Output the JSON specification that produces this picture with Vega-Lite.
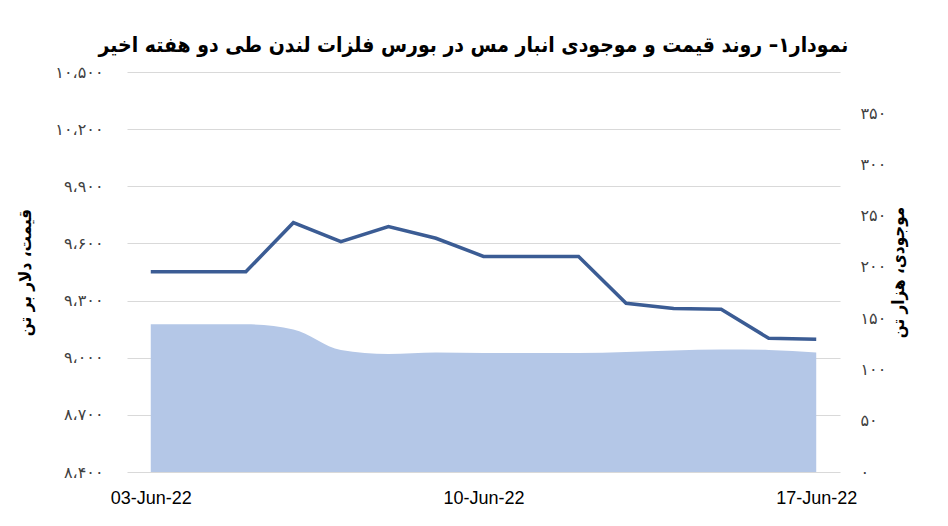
{
  "$schema": "https://vega.github.io/schema/vega-lite/v6.json",
  "autosize": {"type": "none"},
  "width": 713,
  "height": 400,
  "padding": {"left": 127, "top": 72, "right": 108, "bottom": 54},
  "background": "white",
  "title": {
    "text": "نمودار۱– روند قیمت و موجودی انبار مس در بورس فلزات لندن طی دو هفته اخیر",
    "anchor": "middle",
    "dx": -10,
    "offset": 8,
    "font": "DejaVu Sans Condensed, DejaVu Sans",
    "fontSize": 21,
    "fontWeight": "bold",
    "color": "#000000"
  },
  "data": {
    "values": [
      {"date": "2022-06-03", "price": 9451, "stock": 144},
      {"date": "2022-06-04", "price": 9451, "stock": 144},
      {"date": "2022-06-05", "price": 9451, "stock": 144},
      {"date": "2022-06-06", "price": 9709, "stock": 139},
      {"date": "2022-06-07", "price": 9609, "stock": 119},
      {"date": "2022-06-08", "price": 9688, "stock": 115},
      {"date": "2022-06-09", "price": 9627, "stock": 116.5},
      {"date": "2022-06-10", "price": 9532, "stock": 116},
      {"date": "2022-06-11", "price": 9532, "stock": 116},
      {"date": "2022-06-12", "price": 9532, "stock": 116},
      {"date": "2022-06-13", "price": 9286, "stock": 117},
      {"date": "2022-06-14", "price": 9258, "stock": 118.5},
      {"date": "2022-06-15", "price": 9254, "stock": 119.5},
      {"date": "2022-06-16", "price": 9102, "stock": 119},
      {"date": "2022-06-17", "price": 9097, "stock": 116.5}
    ]
  },
  "encoding": {
    "x": {
      "field": "date",
      "type": "temporal",
      "scale": {
        "type": "utc",
        "domain": [
          {"year": 2022, "month": 6, "date": 2, "hours": 12, "utc": true},
          {"year": 2022, "month": 6, "date": 17, "hours": 12, "utc": true}
        ]
      },
      "axis": {
        "title": null,
        "format": "%d-%b-%y",
        "values": [
          {"year": 2022, "month": 6, "date": 3, "utc": true},
          {"year": 2022, "month": 6, "date": 10, "utc": true},
          {"year": 2022, "month": 6, "date": 17, "utc": true}
        ],
        "grid": false,
        "domain": false,
        "ticks": false,
        "labelPadding": 17,
        "labelFont": "Liberation Sans",
        "labelFontSize": 18,
        "labelColor": "#000000"
      }
    }
  },
  "layer": [
    {
      "mark": {"type": "area", "color": "#b4c7e7", "interpolate": "monotone"},
      "encoding": {
        "y": {
          "field": "stock",
          "type": "quantitative",
          "scale": {"domain": [0, 390], "nice": false},
          "axis": {
            "orient": "right",
            "title": "موجودی، هزار تن",
            "titleAngle": -90,
            "titleFont": "DejaVu Sans Condensed, DejaVu Sans",
            "titleFontSize": 17,
            "titleFontWeight": "bold",
            "titleColor": "#000000",
            "titlePadding": 22,
            "values": [0, 50, 100, 150, 200, 250, 300, 350],
            "format": "d",
            "grid": false,
            "domain": false,
            "ticks": false,
            "labelPadding": 20,
            "labelFont": "DejaVu Sans",
            "labelFontSize": 16,
            "labelColor": "#404040"
          }
        }
      }
    },
    {
      "mark": {"type": "line", "color": "#3b5c94", "strokeWidth": 3.5},
      "encoding": {
        "y": {
          "field": "price",
          "type": "quantitative",
          "scale": {"domain": [8400, 10500], "nice": false, "zero": false},
          "axis": {
            "orient": "left",
            "title": "قیمت، دلار بر تن",
            "titleAngle": -90,
            "titleFont": "DejaVu Sans Condensed, DejaVu Sans",
            "titleFontSize": 17,
            "titleFontWeight": "bold",
            "titleColor": "#000000",
            "titlePadding": 20,
            "values": [8400, 8700, 9000, 9300, 9600, 9900, 10200, 10500],
            "format": ",d",
            "grid": true,
            "gridColor": "#d9d9d9",
            "domain": false,
            "ticks": false,
            "labelPadding": 24,
            "labelFont": "DejaVu Sans",
            "labelFontSize": 16,
            "labelColor": "#404040"
          }
        }
      }
    }
  ],
  "resolve": {"scale": {"y": "independent"}},
  "config": {
    "view": {"stroke": null},
    "locale": {
      "number": {
        "decimal": ".",
        "thousands": "،",
        "grouping": [3],
        "currency": ["", ""],
        "numerals": ["۰", "۱", "۲", "۳", "۴", "۵", "۶", "۷", "۸", "۹"]
      }
    }
  }
}
